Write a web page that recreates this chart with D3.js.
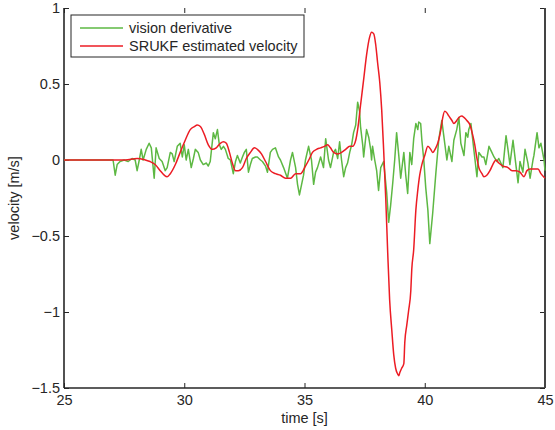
<!DOCTYPE html>
<html>
<head>
<meta charset="utf-8">
<script src="https://cdn.jsdelivr.net/npm/d3@7"></script>
<style>
  body { margin: 0; background: #fff; }
  text { font-family: "Liberation Sans", Arial, sans-serif; fill: #262626; }
</style>
</head>
<body>
<div id="chart"></div>
<script>
// vision derivative (noisy) samples: time [s], velocity [m/s]
const visionT = [25, 27, 27.04, 27.13, 27.21, 27.33, 27.5, 27.67, 27.83, 27.96, 28.04, 28.13, 28.21, 28.29, 28.42, 28.54, 28.63, 28.75, 28.83, 28.96,
  29.08, 29.21, 29.29, 29.42, 29.5, 29.58, 29.71, 29.83, 29.92, 30, 30.08, 30.17, 30.29, 30.38, 30.46, 30.58, 30.67, 30.79, 30.92, 31,
  31.08, 31.21, 31.29, 31.38, 31.46, 31.54, 31.63, 31.71, 31.83, 31.92, 32.04, 32.13, 32.21, 32.33, 32.42, 32.5, 32.58, 32.67, 32.75, 32.83,
  32.96, 33.04, 33.17, 33.25, 33.38, 33.46, 33.58, 33.67, 33.79, 33.92, 34, 34.13, 34.29, 34.42, 34.5, 34.63, 34.71, 34.79, 34.88, 34.96,
  35.04, 35.17, 35.29, 35.38, 35.46, 35.54, 35.67, 35.79, 35.88, 36, 36.08, 36.21, 36.29, 36.38, 36.46, 36.54, 36.63, 36.71, 36.79, 36.88,
  36.96, 37.04, 37.13, 37.21, 37.29, 37.33, 37.42, 37.46, 37.58, 37.67, 37.75, 37.79, 37.83, 37.92, 38, 38.08, 38.17, 38.29, 38.42, 38.5,
  38.58, 38.67, 38.75, 38.83, 38.92, 39, 39.13, 39.21, 39.29, 39.38, 39.46, 39.54, 39.63, 39.71, 39.75, 39.83, 39.88, 39.96, 40.04, 40.13,
  40.21, 40.33, 40.46, 40.58, 40.71, 40.79, 40.92, 41, 41.13, 41.21, 41.33, 41.42, 41.5, 41.63, 41.71, 41.79, 41.83, 41.92, 42.04, 42.17,
  42.25, 42.38, 42.46, 42.54, 42.67, 42.79, 42.88, 43, 43.08, 43.25, 43.38, 43.46, 43.54, 43.67, 43.75, 43.88, 43.96, 44.08, 44.17, 44.29,
  44.38, 44.5, 44.54, 44.67, 44.75, 44.83, 44.96, 45];
const visionV = [0, 0, 0, -0.10, -0.03, -0.01, 0, -0.01, 0.01, 0, -0.07, 0, 0.07, 0, 0.07, 0.11, 0.08, -0.12, 0.08, 0.01,
  -0.01, -0.07, -0.05, 0.05, 0.04, -0.01, 0.09, 0.11, 0.02, 0.10, 0, 0.07, -0.05, 0.01, 0.07, 0.05, 0, -0.03, -0.02, -0.04,
  -0.01, 0.18, 0.14, 0.20, 0.10, 0.07, 0.09, 0.07, 0.01, 0, -0.09, -0.01, 0.03, -0.02, 0.02, 0.05, 0.07, -0.08, -0.03, 0.01,
  0.02, 0.02, 0, -0.01, -0.04, -0.08, 0.05, 0.07, 0.08, 0.02, 0, -0.05, -0.12, 0, 0.05, -0.05, -0.16, -0.23, -0.16, -0.10,
  0, 0.09, 0, -0.16, -0.08, -0.05, 0.02, -0.05, 0.14, 0, -0.05, 0.05, 0.07, 0.01, 0.12, 0, -0.11, -0.05, -0.02, 0.05,
  0.10, 0.18, 0.23, 0.38, 0.32, 0.22, 0.10, 0.02, 0.20, 0.15, 0.07, 0, 0.09, 0, -0.07, -0.20, -0.05, -0.01, -0.22, -0.41,
  -0.30, -0.15, 0, 0.18, 0.03, -0.12, 0.05, -0.10, -0.22, 0.05, -0.03, 0.14, 0.24, 0.20, 0.25, 0.24, 0.13, 0, -0.18, -0.33,
  -0.55, -0.35, -0.09, 0.13, 0.26, 0.16, 0, 0.09, -0.01, 0.13, 0.20, 0.28, 0.11, 0.03, 0.18, 0.15, 0.20, 0.24, 0.07, -0.11,
  0.05, 0.02, 0.02, -0.03, 0.09, 0.05, 0.02, -0.01, 0.01, -0.05, 0.16, 0.07, -0.03, 0.13, 0.02, -0.15, -0.01, -0.08, 0.07, -0.02,
  -0.12, 0, 0.03, 0.18, 0.08, 0.11, 0, -0.07];

// SRUKF estimated velocity
const srukfT = [25, 27.04, 27.54, 28.04, 28.38, 28.58, 28.79, 29, 29.17, 29.29, 29.42, 29.63, 29.83, 30.04, 30.25, 30.42, 30.54, 30.67, 30.83, 31,
  31.17, 31.33, 31.5, 31.63, 31.75, 31.88, 32, 32.13, 32.25, 32.42, 32.58, 32.75, 32.92, 33.04, 33.21, 33.38, 33.58, 33.79, 34, 34.21,
  34.42, 34.63, 34.83, 35.04, 35.21, 35.33, 35.5, 35.67, 35.83, 35.96, 36.08, 36.21, 36.38, 36.54, 36.71, 36.88, 37, 37.13, 37.21, 37.33,
  37.46, 37.58, 37.71, 37.79, 37.88, 37.96, 38.04, 38.13, 38.21, 38.29, 38.38, 38.46, 38.54, 38.63, 38.71, 38.79, 38.88, 38.92, 38.96, 39.04,
  39.13, 39.17, 39.25, 39.33, 39.42, 39.46, 39.54, 39.63, 39.71, 39.79, 39.88, 40, 40.13, 40.25, 40.33, 40.46, 40.54, 40.67, 40.75, 40.83,
  40.92, 41, 41.13, 41.21, 41.33, 41.42, 41.54, 41.63, 41.75, 41.88, 42, 42.08, 42.17, 42.25, 42.38, 42.46, 42.58, 42.71, 42.83, 42.96,
  43.08, 43.25, 43.46, 43.63, 43.79, 43.96, 44.13, 44.25, 44.38, 44.58, 44.71, 44.83, 45];
const srukfV = [0, 0, 0, 0.01, 0, -0.01, -0.03, -0.07, -0.10, -0.11, -0.09, -0.03, 0.05, 0.13, 0.20, 0.22, 0.23, 0.22, 0.17, 0.10,
  0.07, 0.08, 0.11, 0.12, 0.11, 0.05, -0.02, -0.07, -0.07, -0.05, 0.01, 0.05, 0.08, 0.07, 0.04, -0.01, -0.07, -0.09, -0.10, -0.12,
  -0.12, -0.09, -0.09, -0.04, 0.01, 0.05, 0.07, 0.08, 0.09, 0.10, 0.08, 0.05, 0.04, 0.05, 0.07, 0.09, 0.09, 0.13, 0.20, 0.36,
  0.53, 0.69, 0.81, 0.84, 0.83, 0.76, 0.64, 0.51, 0.33, 0.07, -0.26, -0.61, -0.92, -1.12, -1.28, -1.37, -1.41, -1.42, -1.40, -1.37,
  -1.34, -1.20, -1.09, -0.99, -0.86, -0.72, -0.59, -0.33, -0.20, -0.10, -0.03, 0.03, 0.09, 0.07, 0.05, 0.08, 0.11, 0.20, 0.28, 0.32,
  0.31, 0.29, 0.26, 0.24, 0.26, 0.28, 0.29, 0.28, 0.26, 0.23, 0.16, 0.10, 0.01, -0.05, -0.09, -0.11, -0.10, -0.07, -0.03, 0,
  -0.02, -0.04, -0.05, -0.07, -0.07, -0.08, -0.11, -0.07, -0.06, -0.06, -0.06, -0.09, -0.12];

const xTicks = [25, 30, 35, 40, 45];
const yTicks = [-1.5, -1, -0.5, 0, 0.5, 1];
const seriesNames = ["vision derivative", "SRUKF estimated velocity"];
const seriesColors = ["#5db843", "#ec1c24"];

const width = 555, height = 430;
const margin = { top: 8, right: 10, bottom: 42, left: 64 };
const innerW = width - margin.left - margin.right;
const innerH = height - margin.top - margin.bottom;

const svg = d3.select("#chart").append("svg")
  .attr("width", width)
  .attr("height", height);

const g = svg.append("g")
  .attr("transform", `translate(${margin.left},${margin.top})`);

const x = d3.scaleLinear().domain([25, 45]).range([0, innerW]);
const y = d3.scaleLinear().domain([-1.5, 1]).range([innerH, 0]);
const fmt = d3.format("");

// axes, MATLAB style: ticks pointing inward
const axisCol = "#262626";
function styleAxis(sel) {
  sel.select(".domain").remove();
  sel.selectAll(".tick line").attr("stroke", axisCol);
  sel.selectAll(".tick text").style("font-size", "14.5px").attr("fill", axisCol);
}

g.append("g")
  .attr("transform", `translate(0,${innerH})`)
  .call(d3.axisBottom(x).tickValues(xTicks).tickFormat(fmt).tickSizeInner(-5).tickSizeOuter(0).tickPadding(7))
  .call(styleAxis);

g.append("g")
  .call(d3.axisTop(x).tickValues(xTicks).tickFormat("").tickSizeInner(-5).tickSizeOuter(0))
  .call(styleAxis);

g.append("g")
  .call(d3.axisLeft(y).tickValues(yTicks).tickFormat(fmt).tickSizeInner(-5).tickSizeOuter(0).tickPadding(4))
  .call(styleAxis);

g.append("g")
  .attr("transform", `translate(${innerW},0)`)
  .call(d3.axisRight(y).tickValues(yTicks).tickFormat("").tickSizeInner(-5).tickSizeOuter(0))
  .call(styleAxis);

// box lines
g.append("line").attr("x1", 0).attr("x2", 0).attr("y1", 0).attr("y2", innerH)
  .attr("stroke", axisCol).attr("stroke-width", 1.6);
g.append("line").attr("x1", 0).attr("x2", innerW).attr("y1", innerH).attr("y2", innerH)
  .attr("stroke", axisCol).attr("stroke-width", 1.6);
g.append("line").attr("x1", innerW).attr("x2", innerW).attr("y1", 0).attr("y2", innerH)
  .attr("stroke", "#444").attr("stroke-width", 2);

// series
const vision = visionT.map((t, i) => ({ t, v: visionV[i] }));
const srukf = srukfT.map((t, i) => ({ t, v: srukfV[i] }));

g.append("path")
  .datum(vision)
  .attr("fill", "none")
  .attr("stroke", seriesColors[0])
  .attr("stroke-width", 1.5)
  .attr("stroke-linejoin", "round")
  .attr("d", d3.line().x(d => x(d.t)).y(d => y(d.v)));

g.append("path")
  .datum(srukf)
  .attr("fill", "none")
  .attr("stroke", seriesColors[1])
  .attr("stroke-width", 1.5)
  .attr("stroke-linejoin", "round")
  .attr("d", d3.line().curve(d3.curveMonotoneX).x(d => x(d.t)).y(d => y(d.v)));

// axis labels
svg.append("text")
  .attr("x", margin.left + innerW / 2)
  .attr("y", 423)
  .attr("text-anchor", "middle")
  .style("font-size", "14.5px")
  .text("time [s]");

svg.append("text")
  .attr("transform", `translate(19,${margin.top + innerH / 2}) rotate(-90)`)
  .attr("text-anchor", "middle")
  .style("font-size", "14.5px")
  .text("velocity [m/s]");

// legend
const leg = svg.append("g").attr("transform", "translate(71,15)");
leg.append("rect")
  .attr("width", 233).attr("height", 42)
  .attr("fill", "#fff").attr("stroke", axisCol).attr("stroke-width", 1);
seriesNames.forEach((name, i) => {
  const ly = 13 + i * 18;
  leg.append("line")
    .attr("x1", 9).attr("x2", 52).attr("y1", ly).attr("y2", ly)
    .attr("stroke", seriesColors[i]).attr("stroke-width", 1.5);
  leg.append("text")
    .attr("x", 58).attr("y", ly).attr("dy", "0.35em")
    .style("font-size", "14.5px")
    .text(name);
});
</script>
</body>
</html>
